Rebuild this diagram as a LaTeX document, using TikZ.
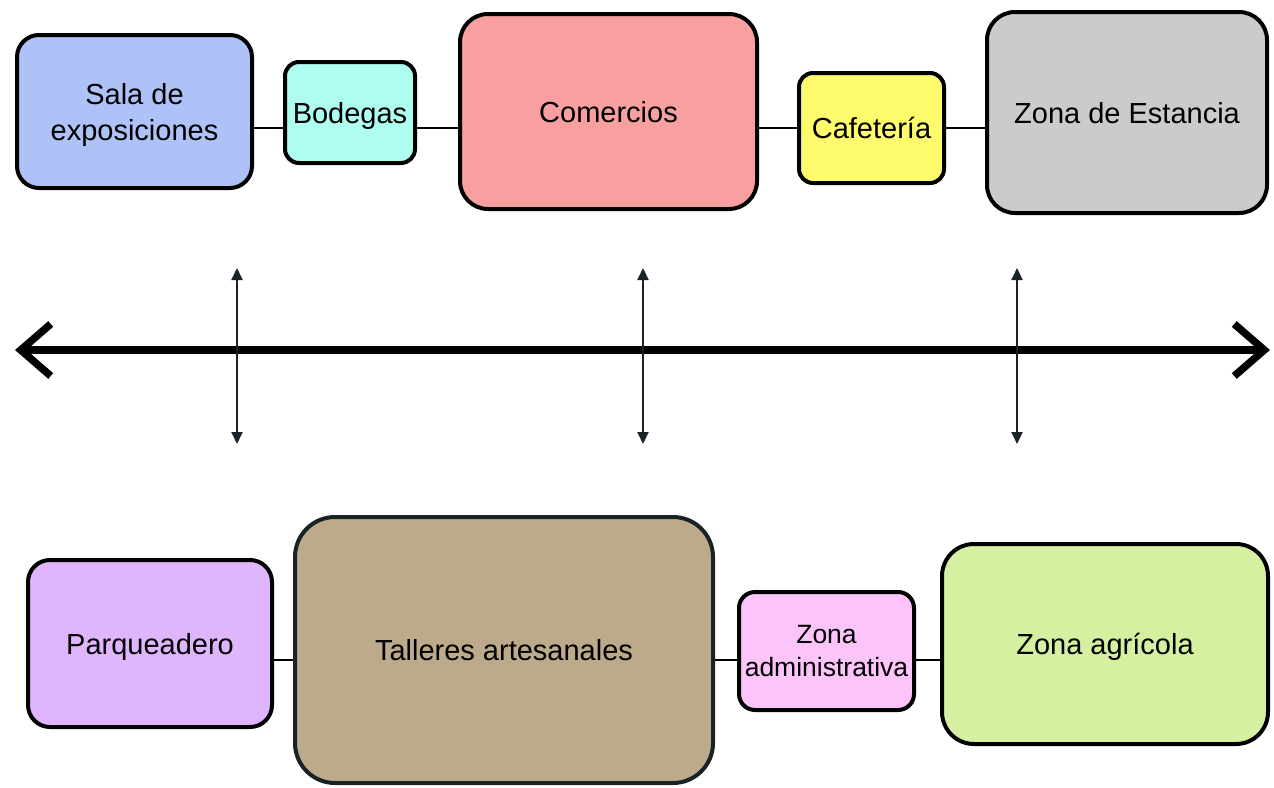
\documentclass[tikz,border=0pt]{standalone}
\usepackage{fontspec}
\setmainfont{Liberation Sans}
\usetikzlibrary{arrows.meta}
\definecolor{salac}{HTML}{AEC2F7}
\definecolor{bodc}{HTML}{ADFDF0}
\definecolor{comc}{HTML}{F7A09F}
\definecolor{cafc}{HTML}{FEFC6D}
\definecolor{estc}{HTML}{CBCBCD}
\definecolor{parc}{HTML}{DFB6FD}
\definecolor{talc}{HTML}{BDAA8A}
\definecolor{admc}{HTML}{FDC4FA}
\definecolor{agrc}{HTML}{D5F0A0}
\definecolor{darkline}{HTML}{172324}
\begin{document}
\begin{tikzpicture}[x=1pt,y=-1pt,
  box/.style={draw=black,line width=4pt,rounded corners=#1,align=center,inner sep=0pt,
    text depth=0pt,font=\fontsize{29}{36}\selectfont},
  box/.default=20pt,
  conn/.style={draw=black,line width=2pt},
  bigaxis/.style={draw=black,line width=7.5pt,
    {Straight Barb[length=30pt,width=52pt]}-{Straight Barb[length=30pt,width=52pt]}},
  varrow/.style={draw=darkline,line width=2pt,
    {Triangle[length=12pt,width=11pt]}-{Triangle[length=12pt,width=11pt]}}]
\useasboundingbox (0,0) rectangle (1274,787);

% top row
\node[box=22pt,fill=salac,minimum width=235pt,minimum height=153pt] (sala) at (134.5,111.5) {Sala de\\exposiciones};
\node[box=14pt,fill=bodc,minimum width=130pt,minimum height=101pt] (bod) at (350,112.5) {Bodegas};
\node[box=28pt,fill=comc,minimum width=297pt,minimum height=195pt] (com) at (608.5,111.5) {Comercios};
\node[box=14pt,fill=cafc,minimum width=145pt,minimum height=110pt] (caf) at (871.5,128) {Cafetería};
\node[box=28pt,fill=estc,minimum width=280pt,minimum height=201pt] (est) at (1127,112.5) {Zona de Estancia};

% bottom row
\node[box=22pt,fill=parc,minimum width=244pt,minimum height=167pt] (par) at (150,643.5) {Parqueadero};
\node[box=40pt,draw=darkline,fill=talc,minimum width=418pt,minimum height=266pt] (tal) at (504,650) {Talleres artesanales};
\node[box=16pt,fill=admc,minimum width=175pt,minimum height=118pt,font=\fontsize{26.5}{33}\selectfont] (adm) at (826.5,651) {Zona\\administrativa};
\node[box=32pt,fill=agrc,minimum width=326pt,minimum height=200pt] (agr) at (1105,644) {Zona agrícola};

% connector levels
\coordinate (topy) at (0,128);
\coordinate (boty) at (0,660);
\draw[conn] (sala.east |- topy) -- (bod.west |- topy);
\draw[conn] (bod.east |- topy) -- (com.west |- topy);
\draw[conn] (com.east |- topy) -- (caf.west |- topy);
\draw[conn] (caf.east |- topy) -- (est.west |- topy);
\draw[conn] (par.east |- boty) -- (tal.west |- boty);
\draw[conn] (tal.east |- boty) -- (adm.west |- boty);
\draw[conn] (adm.east |- boty) -- (agr.west |- boty);

% main axis
\coordinate (axL) at (15,350);
\coordinate (axR) at (1270,350);
\draw[bigaxis] (axL) -- (axR);

% vertical arrows
\coordinate (v1t) at (237,268); \coordinate (v1b) at (237,444);
\coordinate (v2t) at (643,268); \coordinate (v2b) at (643,444);
\coordinate (v3t) at (1017,268); \coordinate (v3b) at (1017,444);
\draw[varrow] (v1t) -- (v1b);
\draw[varrow] (v2t) -- (v2b);
\draw[varrow] (v3t) -- (v3b);
\end{tikzpicture}
\end{document}
